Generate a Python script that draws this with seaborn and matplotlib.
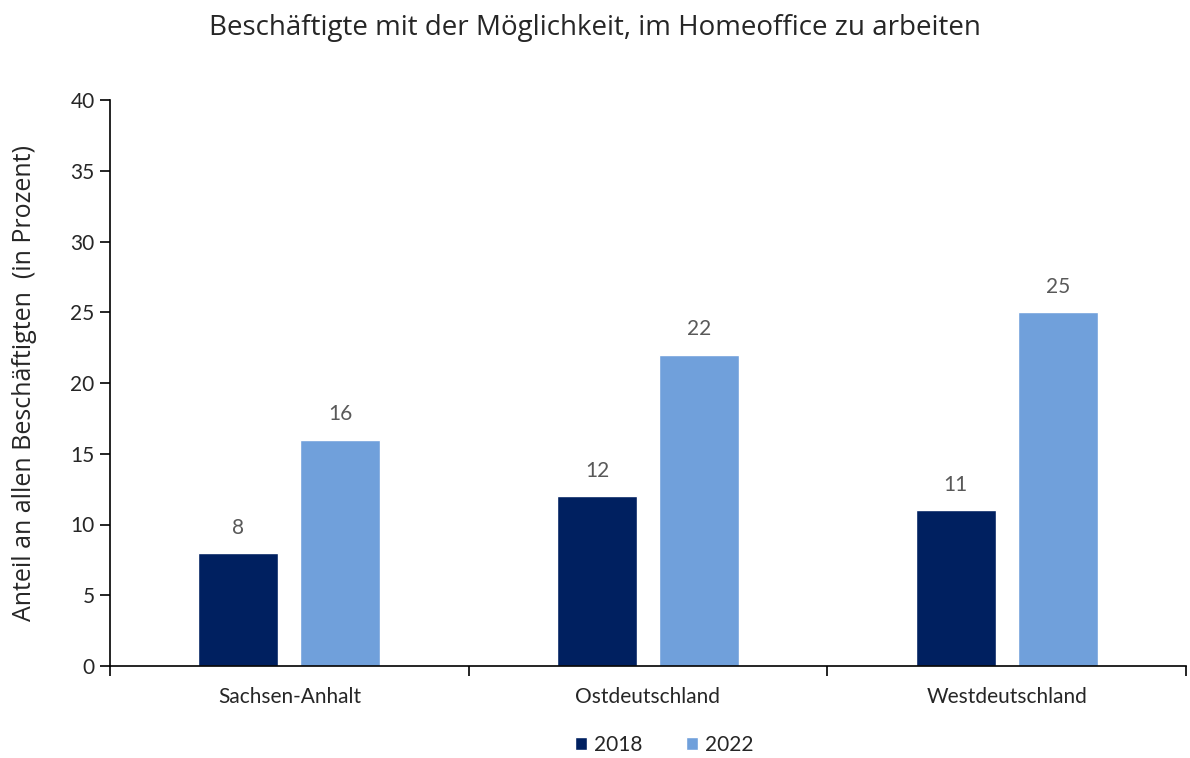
import matplotlib
matplotlib.use("Agg")
import matplotlib.pyplot as plt
from matplotlib.patches import Patch
import pandas as pd
import seaborn as sns

# Data
regions = ["Sachsen-Anhalt", "Ostdeutschland", "Westdeutschland"]
years = ["2018", "2022"]
share_2018 = [8, 12, 11]
share_2022 = [16, 22, 25]
colors = ["#002060", "#70A0DB"]

df = pd.DataFrame({
    "Region": regions * 2,
    "Jahr": [years[0]] * 3 + [years[1]] * 3,
    "Anteil": share_2018 + share_2022,
})

sns.set_theme(style="white")
plt.rcParams["font.family"] = ["Lato", "DejaVu Sans"]

fig = plt.figure(figsize=(11.9, 7.58), dpi=100)
ax = fig.add_axes([110 / 1190, 1 - 666 / 758, 1076 / 1190, 566 / 758])

sns.barplot(data=df, x="Region", y="Anteil", hue="Jahr", palette=colors,
            width=0.569, gap=0.216, saturation=1, legend=False, ax=ax)

# Value labels
for cont in ax.containers:
    ax.bar_label(cont, labels=[f"{v:.0f}" for v in cont.datavalues],
                 padding=11, fontsize=15, color="#595959")

# Axes
ax.set_ylim(0, 40)
ax.set_yticks(range(0, 41, 5))
ax.set_xlim(-0.5, 2.5)
ax.set_xticks([-0.5, 0.5, 1.5, 2.5])
ax.set_xticklabels([])
ax.set_xticks([0, 1, 2], minor=True)
ax.set_xticklabels(regions, minor=True, fontsize=15)
ax.tick_params(axis="x", which="major", direction="out", length=7, width=1.2, color="black", bottom=True)
ax.tick_params(axis="x", which="minor", length=0, pad=15)
ax.tick_params(axis="y", direction="out", length=7, width=1.2, color="black", left=True, labelsize=15, pad=4)
for s in ["top", "right"]:
    ax.spines[s].set_visible(False)
for s in ["left", "bottom"]:
    ax.spines[s].set_color("black")
    ax.spines[s].set_linewidth(1.2)

ax.set_xlabel("")
ax.set_ylabel("Anteil an allen Beschäftigten  (in Prozent)", fontsize=18,
              family=["Open Sans", "DejaVu Sans"])
ax.yaxis.set_label_coords(-0.068, 0.5)

fig.suptitle("Beschäftigte mit der Möglichkeit, im Homeoffice zu arbeiten",
             fontsize=20, family=["Open Sans", "DejaVu Sans"], x=0.5, y=0.982)

# Legend
handles = [Patch(facecolor=c, label=y) for c, y in zip(colors, years)]
fig.legend(handles=handles, loc="center", bbox_to_anchor=(0.558, 0.017),
           ncol=2, frameon=False, fontsize=15, handlelength=0.6, handleheight=0.6,
           handletextpad=0.3, columnspacing=2.1)

fig.savefig("out.png", dpi=100)
